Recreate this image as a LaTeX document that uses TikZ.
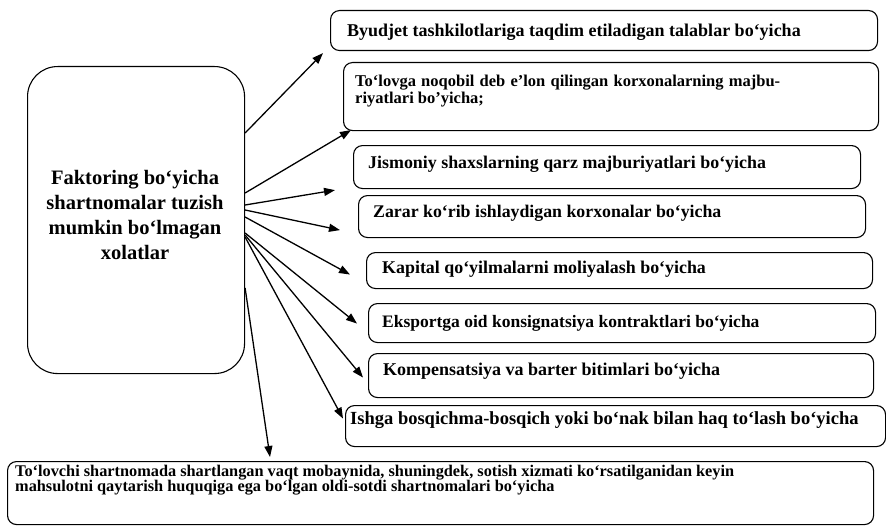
\documentclass[tikz,border=0pt]{standalone}
\usepackage{fontspec}
\setmainfont{Liberation Serif}
\usetikzlibrary{arrows.meta}
\newcommand{\ltext}{\fontsize{20.5}{25.3}\selectfont\bfseries}
\begin{document}
\begin{tikzpicture}[x=1pt,y=-1pt,
  box/.style={draw, line width=1.1pt, rounded corners=9pt, anchor=north west, inner sep=0pt},
  txt/.style={inner sep=0pt, anchor=base west, font=\fontsize{#1}{#1}\selectfont\bfseries},
  arr/.style={line width=1.3pt, -{Triangle[length=11pt,width=8pt]}}]
\useasboundingbox (0,0) rectangle (886,527);
% left box
\node[box, rounded corners=30pt, minimum width=217pt, minimum height=307pt] (L) at (27,66) {};
\node[inner sep=0pt, align=center, font=\ltext] (LT) at (135,215) {Faktoring bo‘yicha\\shartnomalar tuzish\\mumkin bo‘lmagan\\xolatlar};
% right boxes
\node[box, minimum width=547pt, minimum height=40pt] (B1) at (330,10) {};
\node[box, minimum width=535pt, minimum height=68pt] (B2) at (343,62) {};
\node[box, minimum width=507pt, minimum height=43pt] (B3) at (353,145) {};
\node[box, minimum width=507pt, minimum height=42pt] (B4) at (358,195) {};
\node[box, minimum width=506pt, minimum height=36pt] (B5) at (366,252) {};
\node[box, minimum width=507pt, minimum height=39pt] (B6) at (368,303) {};
\node[box, minimum width=505pt, minimum height=44pt] (B7) at (368,353) {};
\node[box, minimum width=540pt, minimum height=41pt] (B8) at (345,405) {};
\node[box, minimum width=866pt, minimum height=63pt] (B9) at (7,461) {};
% texts
\node[txt=18] (T1) at (347,37) {Byudjet tashkilotlariga taqdim etiladigan talablar bo‘yicha};
\node[txt=16.5] (T2a) at (355,86) {\makebox[425pt][s]{To‘lovga noqobil deb e’lon qilingan korxonalarning majbu-}};
\node[txt=16.5] (T2b) at (355,103) {riyatlari bo’yicha;};
\node[txt=17.9] (T3) at (368,168) {Jismoniy shaxslarning qarz majburiyatlari bo‘yicha};
\node[txt=17.8] (T4) at (373,217) {Zarar ko‘rib ishlaydigan korxonalar bo‘yicha};
\node[txt=17.9] (T5) at (382,273) {Kapital qo‘yilmalarni moliyalash bo‘yicha};
\node[txt=17.5] (T6) at (382,327) {Eksportga oid konsignatsiya kontraktlari bo‘yicha};
\node[txt=18] (T7) at (383,375) {Kompensatsiya va barter bitimlari bo‘yicha};
\node[txt=18.5] (T8) at (350,424) {Ishga bosqichma-bosqich yoki bo‘nak bilan haq to‘lash bo‘yicha};
\node[txt=16.3] (T9a) at (15,476) {To‘lovchi shartnomada shartlangan vaqt mobaynida, shuningdek, sotish xizmati ko‘rsatilganidan keyin};
\node[txt=16.3] (T9b) at (15,491) {mahsulotni qaytarish huquqiga ega bo‘lgan oldi-sotdi shartnomalari bo‘yicha};
% arrows
\draw[arr] (L.east |- 0,133) -- ([shift={(-7,2)}]B1.south west);
\draw[arr] (L.east |- 0,193) -- ([shift={(8,-1)}]B2.south west);
\draw[arr] (L.east |- 0,205) -- ([shift={(-18,1)}]B3.south west);
\draw[arr] (L.east |- 0,210) -- ([shift={(-18,-8)}]B4.south west);
\draw[arr] (L.east |- 0,217) -- ([shift={(-16,4)}]B5.west);
\draw[arr] (L.east |- 0,233) -- ([shift={(-11,0.5)}]B6.west);
\draw[arr] (L.east |- 0,235) -- ([shift={(-5,2)}]B7.west);
\draw[arr] (L.east |- 0,237) -- ([shift={(-2,-7.5)}]B8.west);
\draw[arr] (L.east |- 0,288) -- ([shift={(263,-4)}]B9.north west);
\end{tikzpicture}
\end{document}
